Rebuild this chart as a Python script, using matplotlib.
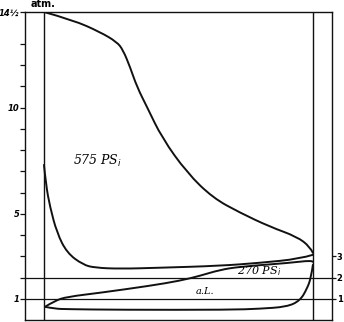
import matplotlib
matplotlib.use("Agg")
import matplotlib.pyplot as plt
from matplotlib.path import Path
from matplotlib.patches import PathPatch

# volume in % of stroke, pressure in atm
hp_top_v = [0, 10.8, 20.8, 27.1, 29.4, 32.0, 34.6, 38.3, 43.9, 53.2, 62.8, 72.9, 84.0, 94.1, 98.9, 100.0]
hp_top_p = [14.5, 14.12, 13.56, 13.09, 12.71, 11.91, 10.97, 10.03, 8.57, 6.93, 5.75, 5.05, 4.39, 3.92, 3.45, 3.16]
hp_ret_v = [100.0, 95.2, 80.3, 65.4, 43.1, 28.3, 19.0, 14.5, 8.55, 4.83, 2.23, 0.74, 0]
hp_ret_p = [3.07, 2.88, 2.69, 2.55, 2.46, 2.41, 2.46, 2.60, 3.16, 4.10, 5.33, 6.36, 7.30]

lp_top_v = [0.37, 4.09, 8.55, 20.8, 39.4, 50.6, 58.0, 65.4, 72.9, 91.5, 99.6, 100.0]
lp_top_p = [0.62, 0.91, 1.09, 1.28, 1.61, 1.85, 2.08, 2.36, 2.51, 2.69, 2.81, 2.74]
lp_bot_v = [0.37, 4.09, 8.55, 28.3, 69.1, 80.3, 90.3, 95.2, 97.8, 99.3, 100.0]
lp_bot_p = [0.62, 0.53, 0.51, 0.48, 0.48, 0.53, 0.62, 0.91, 1.47, 1.99, 2.60]

left_ticks = [1, 5, 10, 14.5]
left_labels = ["1", "5", "10", "14½"]
minor_ticks = [2, 3, 4, 6, 7, 8, 9, 11, 12, 13]
right_ticks = [1, 2, 3]

ink = "#111111"


def smooth_line(ax, xs, ys):
    # quadratic bezier through midpoints, the read points act as control points
    pts = list(zip(xs, ys))
    verts = [pts[0]]
    codes = [Path.MOVETO]
    for i in range(1, len(pts) - 1):
        mid = ((pts[i][0] + pts[i + 1][0]) / 2, (pts[i][1] + pts[i + 1][1]) / 2)
        if i == len(pts) - 2:
            mid = pts[-1]
        verts += [pts[i], mid]
        codes += [Path.CURVE3, Path.CURVE3]
    ax.add_patch(PathPatch(Path(verts, codes), fill=False, edgecolor=ink, lw=1.4,
                           capstyle="round", joinstyle="round"))


fig = plt.figure(figsize=(3.44, 3.22), dpi=100)
ax = fig.add_axes([25 / 344, 2 / 322, 307 / 344, 308 / 322])
ax.set_xlim(-7.06, 107.1)
ax.set_ylim(0, 14.5)

smooth_line(ax, hp_top_v, hp_top_p)
smooth_line(ax, hp_ret_v, hp_ret_p)
smooth_line(ax, lp_top_v, lp_top_p)
smooth_line(ax, lp_bot_v, lp_bot_p)

ax.axvline(0, color=ink, lw=1.0)
ax.axvline(100, color=ink, lw=1.0)
ax.axhline(1, color=ink, lw=0.9)
ax.axhline(2, color=ink, lw=0.9)

for s in ax.spines.values():
    s.set_color(ink)
    s.set_linewidth(1.0)

ax.set_xticks([])
ax.set_yticks(left_ticks)
ax.set_yticklabels(left_labels)
ax.set_yticks(minor_ticks, minor=True)
ax.tick_params(axis="y", which="both", direction="out", length=3.5, width=0.9, color=ink,
               labelsize=6, pad=0.5)
for t in ax.get_yticklabels():
    t.set_fontweight("bold")
    t.set_fontstyle("italic")

ax2 = ax.twinx()
ax2.set_ylim(0, 14.5)
ax2.set_yticks(right_ticks)
ax2.tick_params(axis="y", direction="out", length=3, width=0.9, color=ink, labelsize=6, pad=0.5)
for t in ax2.get_yticklabels():
    t.set_fontweight("bold")
for s in ax2.spines.values():
    s.set_visible(False)

fig.text(31 / 344, 1 - 4 / 322, "atm.", fontsize=7, fontweight="bold", va="center", ha="left")

ax.text(20, 7.5, "575 PS$_i$", fontsize=9, style="italic", family="DejaVu Serif", ha="center", va="center")
ax.text(80, 2.3, "270 PS$_i$", fontsize=8, style="italic", family="DejaVu Serif", ha="center", va="center")
ax.text(60, 1.33, "a.L.", fontsize=7, style="italic", family="DejaVu Serif", ha="center", va="center")

fig.savefig("out.png", dpi=100)
